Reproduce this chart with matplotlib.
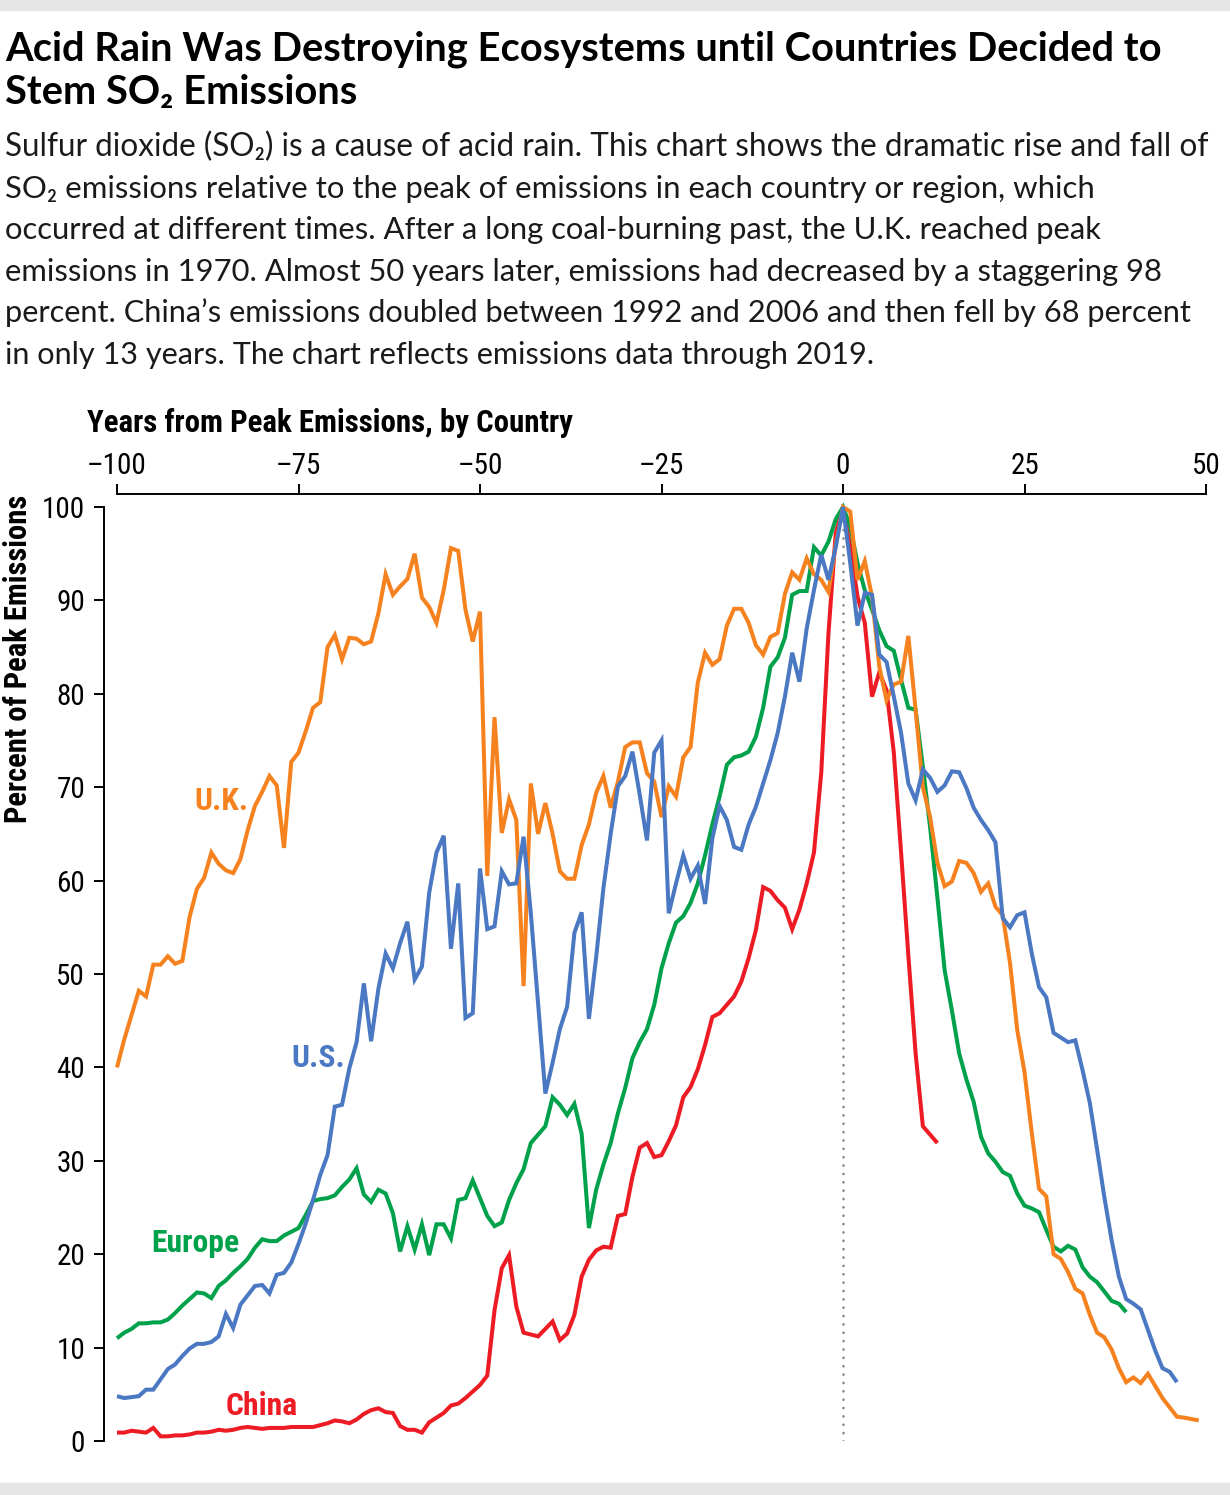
import matplotlib
matplotlib.use("Agg")
import matplotlib.pyplot as plt
from matplotlib import font_manager
from matplotlib.patches import Rectangle

# SO2 emissions, percent of each region's peak, by years from the peak year
uk_years = list(range(-100, 50))
uk = [40, 43, 45.6, 48.2, 47.6, 51, 51, 51.9, 51.1, 51.4,
      56.1, 59.1, 60.3, 63, 61.8, 61.1, 60.8, 62.3, 65.4, 68,
      69.5, 71.2, 70.2, 63.5, 72.7, 73.7, 76, 78.5, 79.1, 85,
      86.3, 83.7, 86, 85.9, 85.3, 85.6, 88.6, 92.8, 90.6, 91.5,
      92.3, 95, 90.3, 89.3, 87.6, 91.1, 95.6, 95.3, 89, 85.6,
      88.8, 60.5, 77.5, 65.1, 68.7, 66.5, 48.7, 70.4, 65, 68.3,
      65, 61, 60.2, 60.2, 63.8, 66, 69.4, 71.2, 67.8, 70.6,
      74.3, 74.8, 74.8, 71.5, 70.6, 66.8, 70.1, 69, 73.2, 74.3,
      81.2, 84.4, 83.1, 83.7, 87.3, 89.1, 89.1, 87.6, 85.2, 84.2,
      86.1, 86.5, 90.7, 93, 92.2, 94.5, 92.8, 92.2, 90.9, 96,
      100, 99.5, 92.2, 94.2, 90.4, 82.9, 79.3, 81, 81.3, 86.2,
      78.3, 70, 66.8, 61.9, 59.4, 59.9, 62.1, 61.9, 60.8, 58.8,
      59.7, 57.2, 56.3, 51.2, 44, 39.5, 33, 27, 26.2, 20,
      19.5, 18.1, 16.3, 15.8, 13.5, 11.6, 11.1, 9.8, 7.8, 6.3,
      6.8, 6.2, 7.2, 5.9, 4.6, 3.6, 2.6, 2.5, 2.35, 2.2]

us_years = list(range(-100, 47))
us = [4.8, 4.6, 4.7, 4.8, 5.5, 5.5, 6.6, 7.7, 8.2, 9.1,
      9.9, 10.4, 10.4, 10.6, 11.2, 13.6, 12.1, 14.6, 15.6, 16.6,
      16.7, 15.8, 17.8, 18, 19.1, 21.1, 23.3, 25.8, 28.5, 30.6,
      35.8, 36, 39.9, 42.7, 49, 42.8, 48.4, 52.2, 50.6, 53.3,
      55.6, 49.4, 50.8, 58.7, 63, 64.8, 52.7, 59.7, 45.3, 45.8,
      61.3, 54.8, 55.1, 61, 59.6, 59.7, 64.7, 56.5, 46.9, 37.2,
      40.5, 44.1, 46.5, 54.4, 56.6, 45.2, 51.8, 59.2, 65, 70.1,
      71.2, 73.8, 69.2, 64.3, 73.7, 75, 56.5, 59.7, 62.7, 60.2,
      61.6, 57.5, 64.5, 68, 66.5, 63.6, 63.3, 66, 67.9, 70.4,
      72.9, 75.8, 79.7, 84.4, 81.3, 87, 91.1, 94.9, 92.2, 95.7,
      100, 94, 87.3, 90.8, 90.6, 84.2, 83.4, 79.7, 75.8, 70.4,
      68.6, 71.9, 71, 69.5, 70.2, 71.7, 71.6, 69.9, 67.8, 66.5,
      65.4, 64.1, 56, 55, 56.3, 56.6, 52.2, 48.6, 47.5, 43.7,
      43.2, 42.7, 42.9, 39.7, 36.2, 31.2, 26.1, 21.5, 17.6, 15.2,
      14.7, 14.1, 11.9, 9.7, 7.8, 7.4, 6.3]

europe_years = list(range(-100, 40))
europe = [11, 11.6, 12, 12.6, 12.6, 12.7, 12.7, 13, 13.7, 14.5,
          15.2, 15.9, 15.8, 15.3, 16.6, 17.2, 18, 18.7, 19.5, 20.7,
          21.6, 21.4, 21.4, 22, 22.4, 22.8, 24.2, 25.7, 25.9, 26,
          26.3, 27.2, 28, 29.2, 26.4, 25.6, 26.9, 26.5, 24.4, 20.3,
          23, 20.5, 23.2, 19.9, 23.2, 23.2, 21.7, 25.8, 26, 27.9,
          26, 24.1, 23, 23.4, 25.8, 27.6, 29.1, 31.9, 32.8, 33.7,
          36.8, 36, 34.9, 36.1, 32.9, 22.8, 26.9, 29.6, 31.9, 35.1,
          37.8, 41, 42.7, 44.1, 46.7, 50.6, 53.3, 55.5, 56.2, 57.6,
          59.7, 62.7, 66, 69, 72.4, 73.2, 73.4, 73.8, 75.4, 78.5,
          82.9, 83.9, 86, 90.6, 91, 91, 95.7, 94.8, 96.3, 98.7,
          100, 97.9, 94, 91.1, 89, 86.8, 85.1, 84.6, 81.5, 78.5,
          78.3, 72.2, 65.7, 58.2, 50.4, 46.1, 41.5, 38.7, 36.3, 32.6,
          30.8, 29.9, 28.8, 28.4, 26.5, 25.2, 24.9, 24.5, 22.6, 20.8,
          20.3, 20.9, 20.5, 18.6, 17.6, 17, 16, 15, 14.7, 13.8]

china_years = list(range(-100, 14))
china = [0.9, 0.9, 1.1, 1, 0.9, 1.4, 0.5, 0.5, 0.6, 0.6,
         0.7, 0.9, 0.9, 1, 1.2, 1.1, 1.2, 1.4, 1.5, 1.4,
         1.3, 1.4, 1.4, 1.4, 1.5, 1.5, 1.5, 1.5, 1.7, 1.9,
         2.2, 2.1, 1.9, 2.3, 2.9, 3.3, 3.5, 3.1, 3, 1.6,
         1.2, 1.2, 0.9, 2, 2.5, 3, 3.8, 4, 4.6, 5.3,
         6, 7, 14, 18.5, 19.9, 14.4, 11.6, 11.4, 11.2, 12,
         12.8, 10.8, 11.5, 13.5, 17.6, 19.4, 20.4, 20.8, 20.7, 24.1,
         24.3, 28.3, 31.4, 31.9, 30.4, 30.6, 32.1, 33.8, 36.8, 37.9,
         39.8, 42.4, 45.4, 45.8, 46.7, 47.6, 49.2, 51.7, 54.7, 59.3,
         58.9, 57.9, 57.1, 54.8, 56.9, 59.7, 63, 71.5, 86.5, 97.2,
         100, 95.7, 90.4, 87.6, 79.7, 82.3, 80.4, 73.7, 63, 52,
         41.5, 33.7, 32.8, 31.9]

x_ticks = [-100, -75, -50, -25, 0, 25, 50]
x_tick_labels = ["\u2013100", "\u201375", "\u201350", "\u201325", "0", "25", "50"]
y_ticks = [0, 10, 20, 30, 40, 50, 60, 70, 80, 90, 100]

ORANGE = "#f5821f"
BLUE = "#4a78c2"
GREEN = "#00a14b"
RED = "#ed1c24"

title_lines = ["Acid Rain Was Destroying Ecosystems until Countries Decided to",
               "Stem SO\u2082 Emissions"]
body_lines = [
    "Sulfur dioxide (SO\u2082) is a cause of acid rain. This chart shows the dramatic rise and fall of",
    "SO\u2082 emissions relative to the peak of emissions in each country or region, which",
    "occurred at different times. After a long coal-burning past, the U.K. reached peak",
    "emissions in 1970. Almost 50 years later, emissions had decreased by a staggering 98",
    "percent. China\u2019s emissions doubled between 1992 and 2006 and then fell by 68 percent",
    "in only 13 years. The chart reflects emissions data through 2019.",
]
# right edge of each body line in the layout (px)
body_widths = [1205, 1090, 1102, 1160, 1190, 870]

# pick a narrow face for the chart texts, fall back to DejaVu condensed
installed = {f.name for f in font_manager.fontManager.ttflist}
cond_name = next((n for n in ["Roboto Condensed", "Archivo Narrow", "Barlow Semi Condensed"]
                  if n in installed), "DejaVu Sans")
COND = [cond_name, "DejaVu Sans"]
HEAD = ["Lato", "DejaVu Sans"]

W, H = 1230, 1495
fig = plt.figure(figsize=(W / 100, H / 100), dpi=100)


def fx(px):
    return px / W


def fy(py):
    return 1 - py / H


# grey bands top and bottom
fig.patches.append(Rectangle((0, fy(10)), 1, 10 / H, transform=fig.transFigure,
                             color="#e6e6e6", zorder=0))
fig.patches.append(Rectangle((0, 0), 1, 12 / H, transform=fig.transFigure,
                             color="#e6e6e6", zorder=0))

ax = fig.add_axes([fx(117), fy(1441), (1206 - 117) / W, (1441 - 507) / H])
ax.set_xlim(-100, 50)
ax.set_ylim(0, 100)

ax.axvline(0, ymin=0, ymax=1, color="#8c8c8c", lw=2.0,
           linestyle=(0, (0.01, 3.0)), dash_capstyle="round", zorder=1)

for yrs, vals, col, z in [(china_years, china, RED, 2),
                          (europe_years, europe, GREEN, 3),
                          (uk_years, uk, ORANGE, 4),
                          (us_years, us, BLUE, 5)]:
    ax.plot(yrs, vals, color=col, lw=2.9, solid_joinstyle="miter",
            solid_capstyle="butt", clip_on=False, zorder=z)

for s in ["right", "bottom"]:
    ax.spines[s].set_visible(False)
for s in ["left", "top"]:
    ax.spines[s].set_position(("outward", 9.4))
    ax.spines[s].set_linewidth(1.4)

ax.xaxis.tick_top()
ax.set_xticks(x_ticks)
ax.set_xticklabels(x_tick_labels)
ax.set_yticks(y_ticks)
ax.tick_params(axis="x", length=7, width=1.4, pad=3, labelsize=21)
ax.tick_params(axis="y", length=7.5, width=1.4, pad=6, labelsize=21)
for lab in ax.get_xticklabels() + ax.get_yticklabels():
    lab.set_fontfamily(COND)
    lab.set_fontstretch("condensed")

# series labels
label_kw = dict(fontsize=20, fontweight="bold", family=COND, stretch="condensed",
                ha="left", va="baseline")
lbl_uk = ax.text(-89.3, 67.6, "U.K.", color=ORANGE, **label_kw)
lbl_us = ax.text(-76.0, 40.0, "U.S.", color=BLUE, **label_kw)
lbl_eu = ax.text(-95.3, 20.2, "Europe", color=GREEN, **label_kw)
lbl_cn = ax.text(-85.0, 2.8, "China", color=RED, **label_kw)

x_title = fig.text(fx(87), fy(432), "Years from Peak Emissions, by Country",
                   fontsize=18, fontweight="bold", family=COND, stretch="condensed",
                   ha="left", va="baseline")
y_title = fig.text(fx(18), fy(659), "Percent of Peak Emissions", rotation=90,
                   fontsize=18, fontweight="bold", family=COND, stretch="condensed",
                   ha="center", va="center")

titles = []
for i, line in enumerate(title_lines):
    titles.append(fig.text(fx(5), fy(60 + 44 * i), line, fontsize=23, fontweight="bold",
                           family=HEAD, ha="left", va="baseline"))

body = []
for i, line in enumerate(body_lines):
    body.append(fig.text(fx(5), fy(156 + 41.6 * i), line, fontsize=19,
                         family=HEAD, ha="left", va="baseline", color="#1a1a1a"))

# scale font sizes so that text widths match the layout
fig.canvas.draw()
r = fig.canvas.get_renderer()


def fit(t, target, vertical=False):
    bb = t.get_window_extent(r)
    size = bb.height if vertical else bb.width
    t.set_fontsize(t.get_fontsize() * target / size)
    return t.get_fontsize()


fs = fit(titles[0], 1160)
titles[1].set_fontsize(fs)
for t, w in zip(body, body_widths):
    fit(t, w)
fit(x_title, 486)
fit(y_title, 328, vertical=True)
fs = fit(lbl_eu, 88)
for t in [lbl_uk, lbl_us, lbl_cn]:
    t.set_fontsize(fs)

fig.savefig("out.png", dpi=100)
